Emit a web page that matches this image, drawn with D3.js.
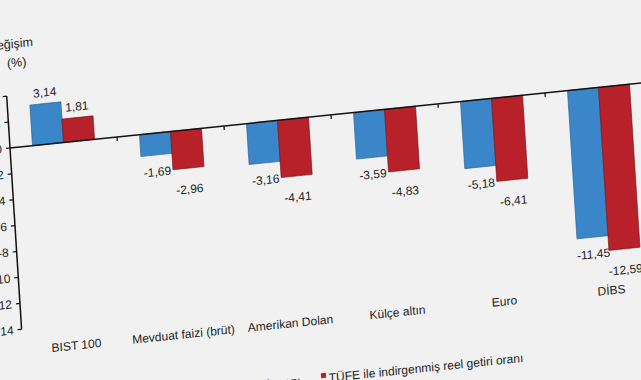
<!DOCTYPE html>
<html>
<head>
<meta charset="utf-8">
<script src="https://cdn.jsdelivr.net/npm/d3@7"></script>
<style>
  html, body { margin: 0; padding: 0; background: #f1f1f1; }
  svg { display: block; }
  text { font-family: "Liberation Sans", Arial, sans-serif; fill: #1e1e1e; }
</style>
</head>
<body>
<svg id="chart" width="641" height="380"></svg>
<script>
// ---- data ----
const categories = ["BIST 100", "Mevduat faizi (brüt)", "Amerikan Dolan", "Külçe altın", "Euro", "DİBS"];
const nominal = [3.14, -1.69, -3.16, -3.59, -5.18, -11.45];
const real = [1.81, -2.96, -4.41, -4.83, -6.41, -12.59];
const yTicks = [4, 2, 0, -2, -4, -6, -8, -10, -12, -14];
const seriesNames = ["Nominal getiri oranı", "TÜFE ile indirgenmiş reel getiri oranı"];
const colors = ["#3a86c8", "#b8212a"];
const yTitle = ["Değişim", "(%)"];

// ---- drawing ----
const svg = d3.select("#chart");
svg.append("rect").attr("width", 641).attr("height", 380).attr("fill", "#f1f1f1");

// the reference is a slanted photo of the chart: draw in a flat frame, then skew it
const g = svg.append("g").attr("transform", "matrix(1,-0.103,0.064,1,10,148)");

const x = d3.scaleBand().domain(categories).range([0, 642]).paddingInner(0.42).paddingOuter(0.21);
const y = d3.scaleLinear().domain([-14, 4]).range([181.3, -51.8]);
const bw = x.bandwidth() / 2;
const fmt = v => v.toFixed(2).replace(".", ",");

const series = [nominal, real];
series.forEach((vals, si) => {
  const grp = g.append("g");
  grp.selectAll("rect").data(categories).join("rect")
    .attr("x", c => x(c) + si * bw)
    .attr("width", bw)
    .attr("y", (c, i) => Math.min(y(vals[i]), y(0)))
    .attr("height", (c, i) => Math.abs(y(vals[i]) - y(0)))
    .attr("fill", colors[si])
    .attr("stroke", si === 0 ? "#2a5f8f" : "#6e1016")
    .attr("stroke-width", 0.6);
  grp.selectAll("text").data(categories).join("text")
    .attr("x", c => x(c) + si * bw + bw / 2)
    .attr("y", (c, i) => vals[i] >= 0 ? y(vals[i]) - 7 : y(vals[i]) + (si === 0 ? 21 : 25))
    .attr("text-anchor", "middle")
    .attr("font-size", 12)
    .text((c, i) => fmt(vals[i]));
});

// x axis (zero line) with category boundary ticks
const xAxis = g.append("g");
xAxis.append("line").attr("x1", 0).attr("x2", 642).attr("y1", y(0)).attr("y2", y(0))
  .attr("stroke", "#111").attr("stroke-width", 1.5);
const bounds = d3.range(1, categories.length + 1).map(i => x.step() * i);
xAxis.selectAll("line.tk").data(bounds).join("line").attr("class", "tk")
  .attr("x1", d => d).attr("x2", d => d).attr("y1", y(0)).attr("y2", y(0) + 4)
  .attr("stroke", "#111").attr("stroke-width", 1.2);
xAxis.selectAll("text").data(categories).join("text")
  .attr("x", c => x(c) + x.bandwidth() / 2)
  .attr("y", 207)
  .attr("text-anchor", "middle")
  .attr("font-size", 12)
  .text(c => c);

// y axis
const yAxis = g.append("g");
yAxis.append("line").attr("x1", 0).attr("x2", 0).attr("y1", y(4)).attr("y2", y(-14))
  .attr("stroke", "#111").attr("stroke-width", 1.5);
yAxis.selectAll("line.tk").data(yTicks).join("line").attr("class", "tk")
  .attr("x1", -4).attr("x2", 0).attr("y1", d => y(d)).attr("y2", d => y(d))
  .attr("stroke", "#111").attr("stroke-width", 1.2);
yAxis.selectAll("text").data(yTicks).join("text")
  .attr("x", -8).attr("y", d => y(d)).attr("dy", "0.35em")
  .attr("text-anchor", "end").attr("font-size", 12)
  .text(d => String(d));
g.append("text").attr("x", 7).attr("y", -99).attr("text-anchor", "middle").attr("font-size", 12.5).text(yTitle[0]);
g.append("text").attr("x", 12).attr("y", -80).attr("text-anchor", "middle").attr("font-size", 12.5).text(yTitle[1]);

// legend
const legendX = [165, 297];
seriesNames.forEach((n, i) => {
  g.append("rect").attr("x", legendX[i] - 2.5).attr("y", 255.5).attr("width", 5).attr("height", 5).attr("fill", colors[i]);
  g.append("text").attr("x", legendX[i] + 5).attr("y", 265).attr("font-size", 12).text(n);
});
</script>
</body>
</html>
